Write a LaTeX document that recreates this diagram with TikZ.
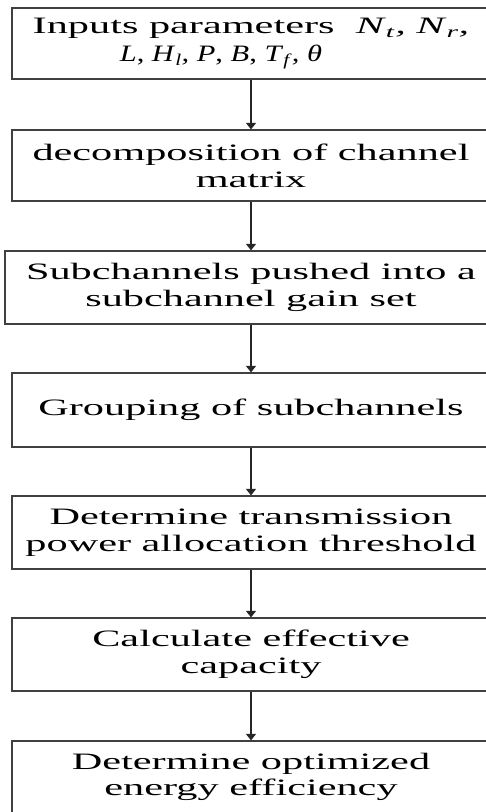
\documentclass[tikz,border=0pt]{standalone}
\usepackage{fontspec}
\setmainfont[FakeStretch=1.8]{Liberation Serif}
\usetikzlibrary{arrows.meta}
\tikzset{
  flowbox/.style={draw=black!75, line width=1.2bp, rectangle, inner sep=0pt, align=center,
    font=\fontsize{23.5bp}{26.7bp}\selectfont},
  flowarrow/.style={draw=black!85, line width=1.2bp, -{Triangle[width=10bp,length=6.5bp]}}
}
\newcommand{\vi}[1]{\textit{#1}}
\begin{document}
\begin{tikzpicture}[x=1bp,y=-1bp]
\useasboundingbox (0,0) rectangle (486,812);
\clip (0,0) rectangle (486,812);
\node[flowbox, minimum width=478bp, minimum height=71bp, font=\fontsize{23.5bp}{28bp}\selectfont] (b1) at (251,43.5)
  {Inputs parameters\ \ \vi{N}\textsubscript{\vi{t}}\vi{,} \vi{N}\textsubscript{\vi{r}}\vi{,}\\
   \scalebox{0.72}[1]{\vi{L}, \vi{H}\textsubscript{\vi{l}}\vi{,} \vi{P}, \vi{B}, \vi{T}\textsubscript{\vi{f}}\vi{,} \vi{θ}}\hspace*{60bp}};
\node[flowbox, minimum width=478bp, minimum height=71bp] (b2) at (251,165.5)
  {decomposition of channel\\matrix};
\node[flowbox, minimum width=492bp, minimum height=73bp] (b3) at (251,287.5)
  {Subchannels pushed into a\\subchannel gain set};
\node[flowbox, minimum width=478bp, minimum height=74bp] (b4) at (251,410)
  {Grouping of subchannels};
\node[flowbox, minimum width=478bp, minimum height=73bp] (b5) at (251,532.5)
  {Determine transmission\\power allocation threshold};
\node[flowbox, minimum width=478bp, minimum height=73bp] (b6) at (251,654.5)
  {Calculate effective\\capacity};
\node[flowbox, minimum width=478bp, minimum height=72bp] (b7) at (251,777)
  {Determine optimized\\energy efficiency};
\draw[flowarrow] (b1) -- (b2);
\draw[flowarrow] (b2) -- (b3);
\draw[flowarrow] (b3) -- (b4);
\draw[flowarrow] (b4) -- (b5);
\draw[flowarrow] (b5) -- (b6);
\draw[flowarrow] (b6) -- (b7);
\end{tikzpicture}
\end{document}
